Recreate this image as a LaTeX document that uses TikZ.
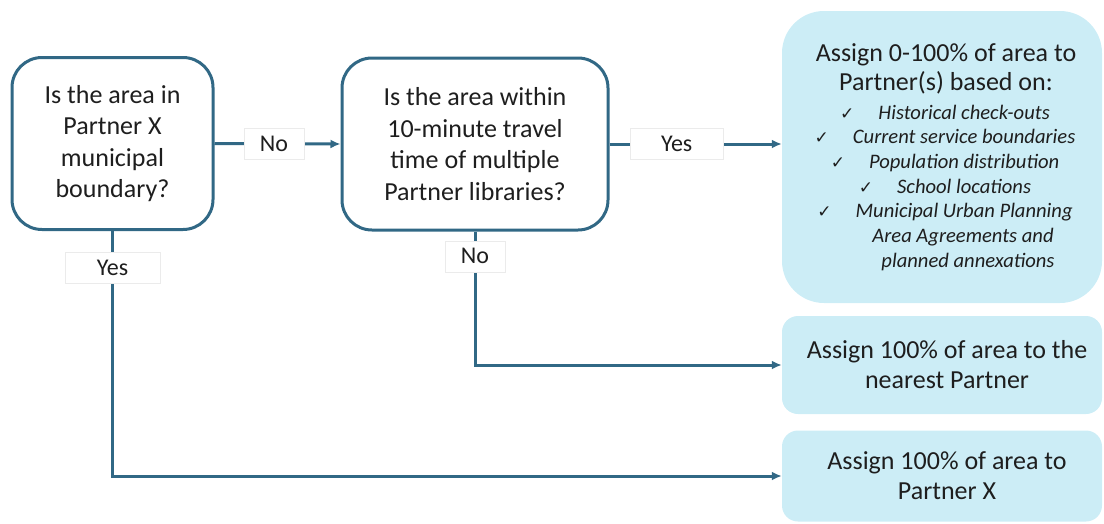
\documentclass[tikz,border=0pt]{standalone}
\usepackage{fontspec}
\setmainfont{Carlito}
\newfontfamily\ckfont{DejaVu Sans}
\usetikzlibrary{arrows.meta}
\definecolor{lnc}{RGB}{49,104,133}
\definecolor{fillb}{RGB}{204,237,246}
\definecolor{txt}{RGB}{30,30,30}
\newcommand{\ckm}{{\ckfont\fontsize{17}{17}\selectfont ✓}}
\newcommand{\itm}[1]{{\ckm\hspace{24pt}\fontsize{20.6}{24}\selectfont\itshape #1}}
\begin{document}
\begin{tikzpicture}[x=1pt,y=-1pt,
  qbox/.style={draw=lnc, line width=3pt, rounded corners=30pt, fill=white, align=center, text=txt, font=\fontsize{26}{31.5}\selectfont, inner sep=0pt},
  abox/.style={fill=fillb, align=center, text=txt, font=\fontsize{26}{30}\selectfont, inner sep=0pt},
  arr/.style={draw=lnc, line width=3pt, -{Latex[length=10pt,width=9pt]}},
  lbl/.style={fill=white, draw=black!8, line width=0.6pt, text=txt, font=\fontsize{24}{28}\selectfont, inner sep=0pt, minimum height=31pt},
]
\useasboundingbox (0,0) rectangle (1104,523);
\node[qbox, minimum width=201pt, minimum height=172pt] (q1) at (112.5,143.5)
  {Is the area in\\Partner X\\municipal\\boundary?};
\node[qbox, minimum width=266pt, minimum height=172pt] (q2) at (475,144)
  {Is the area within\\10-minute travel\\time of multiple\\Partner libraries?};
\node[abox, rounded corners=42pt, minimum width=320pt, minimum height=292pt,
      font=\fontsize{26}{29}\selectfont] (a1) at (942,157)
  {\hspace*{8pt}Assign 0-100\% of area to\\
   \hspace*{8pt}Partner(s) based on:\\
   \hspace*{6pt}\itm{Historical check-outs}\\[-4.3pt]
   \hspace*{6pt}\itm{Current service boundaries}\\[-4.3pt]
   \hspace*{6pt}\itm{Population distribution}\\[-4.3pt]
   \hspace*{6pt}\itm{School locations}\\[-4.3pt]
   \hspace*{6pt}\itm{Municipal Urban Planning}\\[-4.3pt]
   \hspace*{42pt}{\fontsize{20.6}{24}\selectfont\itshape Area Agreements and}\\[-4.3pt]
   \hspace*{52pt}{\fontsize{20.6}{24}\selectfont\itshape planned annexations}};
\node[abox, rounded corners=16pt, minimum width=320pt, minimum height=98pt] (a2) at (942,365)
  {\hspace*{10pt}Assign 100\% of area to the\\\hspace*{10pt}nearest Partner};
\node[abox, rounded corners=16pt, minimum width=320pt, minimum height=91pt] (a3) at (942,476)
  {\hspace*{10pt}Assign 100\% of area to\\\hspace*{10pt}Partner X};
\draw[arr] (q1.east) -- node[lbl, minimum width=60pt, pos=0.472]{No} (q2.west);
\draw[arr] (q2.east) -- node[lbl, minimum width=93pt, pos=0.39]{Yes} (q2.east -| a1.west);
\draw[arr] (q2.south) |- node[lbl, minimum width=60pt, pos=0.093]{No} (a2.west);
\draw[arr] (q1.south) |- node[lbl, minimum width=95pt, pos=0.0755]{Yes} (a3.west);
\end{tikzpicture}
\end{document}
